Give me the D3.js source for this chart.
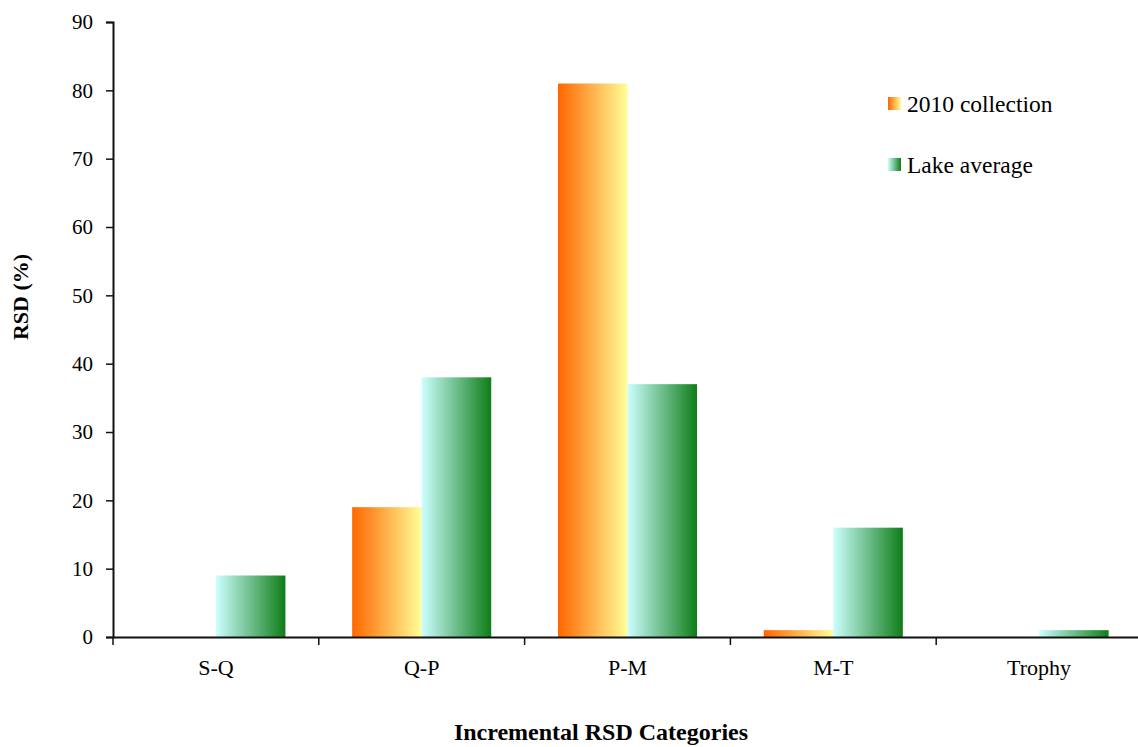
<!DOCTYPE html>
<html>
<head>
<meta charset="utf-8">
<script src="https://cdn.jsdelivr.net/npm/d3@7"></script>
<style>
  body { margin: 0; background: #fff; }
  text { font-family: "Liberation Serif", "Times New Roman", serif; }
</style>
</head>
<body>
<div id="chart"></div>
<script>
// data
const categories = ['S-Q', 'Q-P', 'P-M', 'M-T', 'Trophy'];
const collection2010 = [0, 19, 81, 1, 0];
const lakeAverage = [9, 38, 37, 16, 1];
const seriesNames = ['2010 collection', 'Lake average'];
const yTicks = [0, 10, 20, 30, 40, 50, 60, 70, 80, 90];

function main() {
    const width = 1138, height = 747;
    const left = 113, bottom = 637, top = 22, right = 1142;

    const svg = d3.select('#chart')
        .append('svg')
        .attr('width', width)
        .attr('height', height);

    // gradients for the two series
    const defs = svg.append('defs');
    const grads = [
        { id: 'gOrange', from: '#ff6600', to: '#ffff99' },
        { id: 'gGreen', from: '#ccffff', to: '#0f7d18' }
    ];
    grads.forEach(g => {
        const lg = defs.append('linearGradient')
            .attr('id', g.id)
            .attr('x1', '0%').attr('x2', '100%')
            .attr('y1', '0%').attr('y2', '0%');
        lg.append('stop').attr('offset', '0%').attr('stop-color', g.from);
        lg.append('stop').attr('offset', '100%').attr('stop-color', g.to);
    });

    const x = d3.scaleBand()
        .domain(categories)
        .range([left, right])
        .paddingInner(0)
        .paddingOuter(0);

    const x1 = d3.scaleBand()
        .domain(seriesNames)
        .range([0, x.bandwidth()])
        .paddingOuter(0.48)
        .paddingInner(0);

    const y = d3.scaleLinear()
        .domain([0, 90])
        .range([bottom, top]);

    const rows = categories.map((c, i) => ({
        cat: c,
        vals: [
            { s: seriesNames[0], v: collection2010[i], fill: 'url(#gOrange)' },
            { s: seriesNames[1], v: lakeAverage[i], fill: 'url(#gGreen)' }
        ]
    }));

    // bars
    svg.append('g')
        .selectAll('g')
        .data(rows)
        .enter()
        .append('g')
        .attr('transform', d => `translate(${x(d.cat)},0)`)
        .selectAll('rect')
        .data(d => d.vals.filter(e => e.v > 0))
        .enter()
        .append('rect')
        .attr('x', d => x1(d.s))
        .attr('y', d => y(d.v))
        .attr('width', x1.bandwidth())
        .attr('height', d => bottom - y(d.v))
        .attr('fill', d => d.fill);

    // y axis
    const yAxis = svg.append('g')
        .attr('transform', `translate(${left},0)`)
        .call(d3.axisLeft(y).tickValues(yTicks).tickSize(7).tickPadding(13));
    yAxis.select('.domain').attr('stroke', '#111').attr('stroke-width', 2);
    yAxis.selectAll('.tick line').attr('stroke', '#111').attr('stroke-width', 1.5);
    yAxis.selectAll('.tick text')
        .attr('font-size', 21)
        .attr('fill', '#000')
        .style('font-family', '"Liberation Serif", serif');

    // x axis
    const xAxis = svg.append('g')
        .attr('transform', `translate(0,${bottom})`)
        .call(d3.axisBottom(x).tickSize(0).tickPadding(22));
    xAxis.select('.domain').attr('stroke', '#111').attr('stroke-width', 2);
    xAxis.selectAll('.tick text')
        .attr('font-size', 22)
        .attr('fill', '#000')
        .style('font-family', '"Liberation Serif", serif');

    // tick marks between categories
    const bounds = categories.map(c => x(c)).concat([right]);
    svg.append('g')
        .selectAll('line')
        .data(bounds)
        .enter()
        .append('line')
        .attr('x1', d => d).attr('x2', d => d)
        .attr('y1', bottom).attr('y2', bottom + 8)
        .attr('stroke', '#111')
        .attr('stroke-width', 1.5);

    // axis titles
    svg.append('text')
        .attr('transform', 'translate(28,297) rotate(-90)')
        .attr('text-anchor', 'middle')
        .attr('font-size', 22)
        .attr('font-weight', 'bold')
        .text('RSD (%)');

    svg.append('text')
        .attr('x', 601)
        .attr('y', 740)
        .attr('text-anchor', 'middle')
        .attr('font-size', 24)
        .attr('font-weight', 'bold')
        .text('Incremental RSD Categories');

    // legend
    const legend = svg.append('g')
        .selectAll('g')
        .data([
            { name: seriesNames[0], fill: 'url(#gOrange)' },
            { name: seriesNames[1], fill: 'url(#gGreen)' }
        ])
        .enter()
        .append('g')
        .attr('transform', (d, i) => `translate(888,${97 + i * 61})`);
    legend.append('rect')
        .attr('width', 13)
        .attr('height', 13)
        .attr('fill', d => d.fill);
    legend.append('text')
        .attr('x', 19)
        .attr('y', 15)
        .attr('font-size', 23.5)
        .text(d => d.name);
}

main();
</script>
</body>
</html>
